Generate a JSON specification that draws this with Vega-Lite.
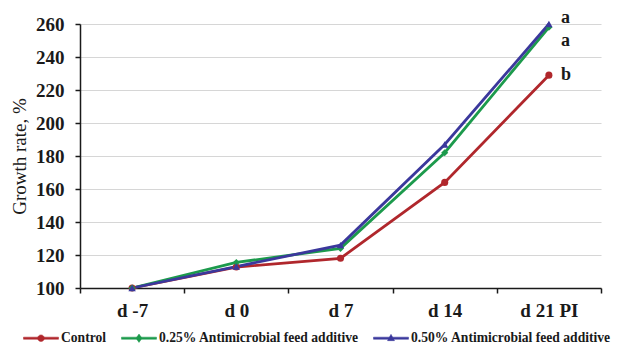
{
  "$schema": "https://vega.github.io/schema/vega-lite/v6.json",
  "autosize": {"type": "none"},
  "padding": {"left": 80, "top": 24, "right": 16, "bottom": 58},
  "width": 521,
  "height": 264,
  "background": "white",
  "config": {
    "view": {"stroke": null},
    "font": "Liberation Serif",
    "axis": {
      "labelFont": "Liberation Serif",
      "titleFont": "Liberation Serif",
      "labelColor": "#1a1a1a",
      "titleColor": "#1a1a1a",
      "domainColor": "#1a1a1a",
      "tickColor": "#1a1a1a",
      "domainWidth": 1.5,
      "tickWidth": 1.5,
      "tickSize": 5
    }
  },
  "data": {
    "values": [
      {"day": "d -7", "group": "Control", "rate": 100},
      {"day": "d 0", "group": "Control", "rate": 112.7},
      {"day": "d 7", "group": "Control", "rate": 118},
      {"day": "d 14", "group": "Control", "rate": 164},
      {"day": "d 21 PI", "group": "Control", "rate": 229, "sig": "b"},
      {"day": "d -7", "group": "0.25% Antimicrobial feed additive", "rate": 100},
      {"day": "d 0", "group": "0.25% Antimicrobial feed additive", "rate": 115.5},
      {"day": "d 7", "group": "0.25% Antimicrobial feed additive", "rate": 124},
      {"day": "d 14", "group": "0.25% Antimicrobial feed additive", "rate": 182},
      {"day": "d 21 PI", "group": "0.25% Antimicrobial feed additive", "rate": 258, "sig": "a"},
      {"day": "d -7", "group": "0.50% Antimicrobial feed additive", "rate": 100},
      {"day": "d 0", "group": "0.50% Antimicrobial feed additive", "rate": 113},
      {"day": "d 7", "group": "0.50% Antimicrobial feed additive", "rate": 126},
      {"day": "d 14", "group": "0.50% Antimicrobial feed additive", "rate": 187},
      {"day": "d 21 PI", "group": "0.50% Antimicrobial feed additive", "rate": 260, "sig": "a"}
    ]
  },
  "encoding": {
    "x": {
      "field": "day",
      "type": "ordinal",
      "sort": ["d -7", "d 0", "d 7", "d 14", "d 21 PI"],
      "scale": {"type": "band", "paddingInner": 0, "paddingOuter": 0},
      "axis": {
        "title": null,
        "labelAngle": 0,
        "labelFontSize": 19,
        "labelFontWeight": "bold",
        "labelPadding": 8,
        "tickBand": "extent",
        "grid": false
      }
    },
    "y": {
      "field": "rate",
      "type": "quantitative",
      "scale": {"domain": [100, 260], "nice": false, "zero": false},
      "axis": {
        "title": "Growth rate, %",
        "titleFontSize": 19,
        "titleFontWeight": "normal",
        "titlePadding": 6,
        "labelFontSize": 19,
        "labelFontWeight": "bold",
        "labelPadding": 11,
        "values": [100, 120, 140, 160, 180, 200, 220, 240, 260],
        "grid": true,
        "gridColor": "#d6d6d6",
        "gridWidth": 1.2
      }
    },
    "color": {
      "field": "group",
      "type": "nominal",
      "scale": {
        "domain": ["Control", "0.25% Antimicrobial feed additive", "0.50% Antimicrobial feed additive"],
        "range": ["#b0272c", "#1c9a4c", "#3b389c"]
      },
      "sort": ["Control", "0.25% Antimicrobial feed additive", "0.50% Antimicrobial feed additive"],
      "legend": {
        "title": null,
        "orient": "none",
        "direction": "horizontal",
        "legendX": -57,
        "legendY": 296,
        "padding": 0,
        "columnPadding": 13,
        "symbolSize": 1225,
        "labelOffset": 2,
        "labelFont": "Liberation Serif",
        "labelFontSize": 13.6,
        "labelFontWeight": "bold",
        "labelColor": "#1a1a1a",
        "labelLimit": 400,
        "encode": {
          "symbols": {
            "update": {
              "shape": {"signal": "datum.value === 'Control' ? 'M-1,-0.06L1,-0.06L1,0.06L-1,0.06Z M0.19,0A0.19,0.19 0 1,1 -0.19,0A0.19,0.19 0 1,1 0.19,0Z' : datum.value === '0.25% Antimicrobial feed additive' ? 'M-1,-0.06L1,-0.06L1,0.06L-1,0.06Z M0,-0.24L0.17,0L0,0.24L-0.17,0Z' : 'M-1,-0.06L1,-0.06L1,0.06L-1,0.06Z M0,-0.22L0.2,0.14L-0.2,0.14Z'"},
              "fill": {"signal": "scale('color', datum.value)"},
              "stroke": {"signal": "scale('color', datum.value)"},
              "strokeWidth": {"value": 0.5},
              "size": {"value": 1225}
            }
          }
        }
      }
    }
  },
  "layer": [
    {
      "mark": {"type": "line", "strokeWidth": 2.8}
    },
    {
      "transform": [{"filter": "datum.group === 'Control'"}],
      "mark": {"type": "point", "filled": true, "opacity": 1, "size": 50, "shape": "circle"}
    },
    {
      "transform": [{"filter": "datum.group === '0.25% Antimicrobial feed additive'"}],
      "mark": {"type": "point", "filled": true, "opacity": 1, "size": 50, "shape": "diamond"}
    },
    {
      "transform": [{"filter": "datum.group === '0.50% Antimicrobial feed additive'"}],
      "mark": {"type": "point", "filled": true, "opacity": 1, "size": 55, "shape": "triangle-up"}
    },
    {
      "transform": [{"filter": "datum.group === '0.50% Antimicrobial feed additive' && datum.sig"}],
      "mark": {"type": "text", "align": "left", "baseline": "middle", "dx": 12, "dy": -6, "fontSize": 18, "fontWeight": "bold", "font": "Liberation Serif"},
      "encoding": {"text": {"field": "sig"}, "color": {"value": "#1a1a1a"}}
    },
    {
      "transform": [{"filter": "datum.group === '0.25% Antimicrobial feed additive' && datum.sig"}],
      "mark": {"type": "text", "align": "left", "baseline": "middle", "dx": 12, "dy": 14, "fontSize": 18, "fontWeight": "bold", "font": "Liberation Serif"},
      "encoding": {"text": {"field": "sig"}, "color": {"value": "#1a1a1a"}}
    },
    {
      "transform": [{"filter": "datum.group === 'Control' && datum.sig"}],
      "mark": {"type": "text", "align": "left", "baseline": "middle", "dx": 12, "dy": 0, "fontSize": 18, "fontWeight": "bold", "font": "Liberation Serif"},
      "encoding": {"text": {"field": "sig"}, "color": {"value": "#1a1a1a"}}
    }
  ]
}
